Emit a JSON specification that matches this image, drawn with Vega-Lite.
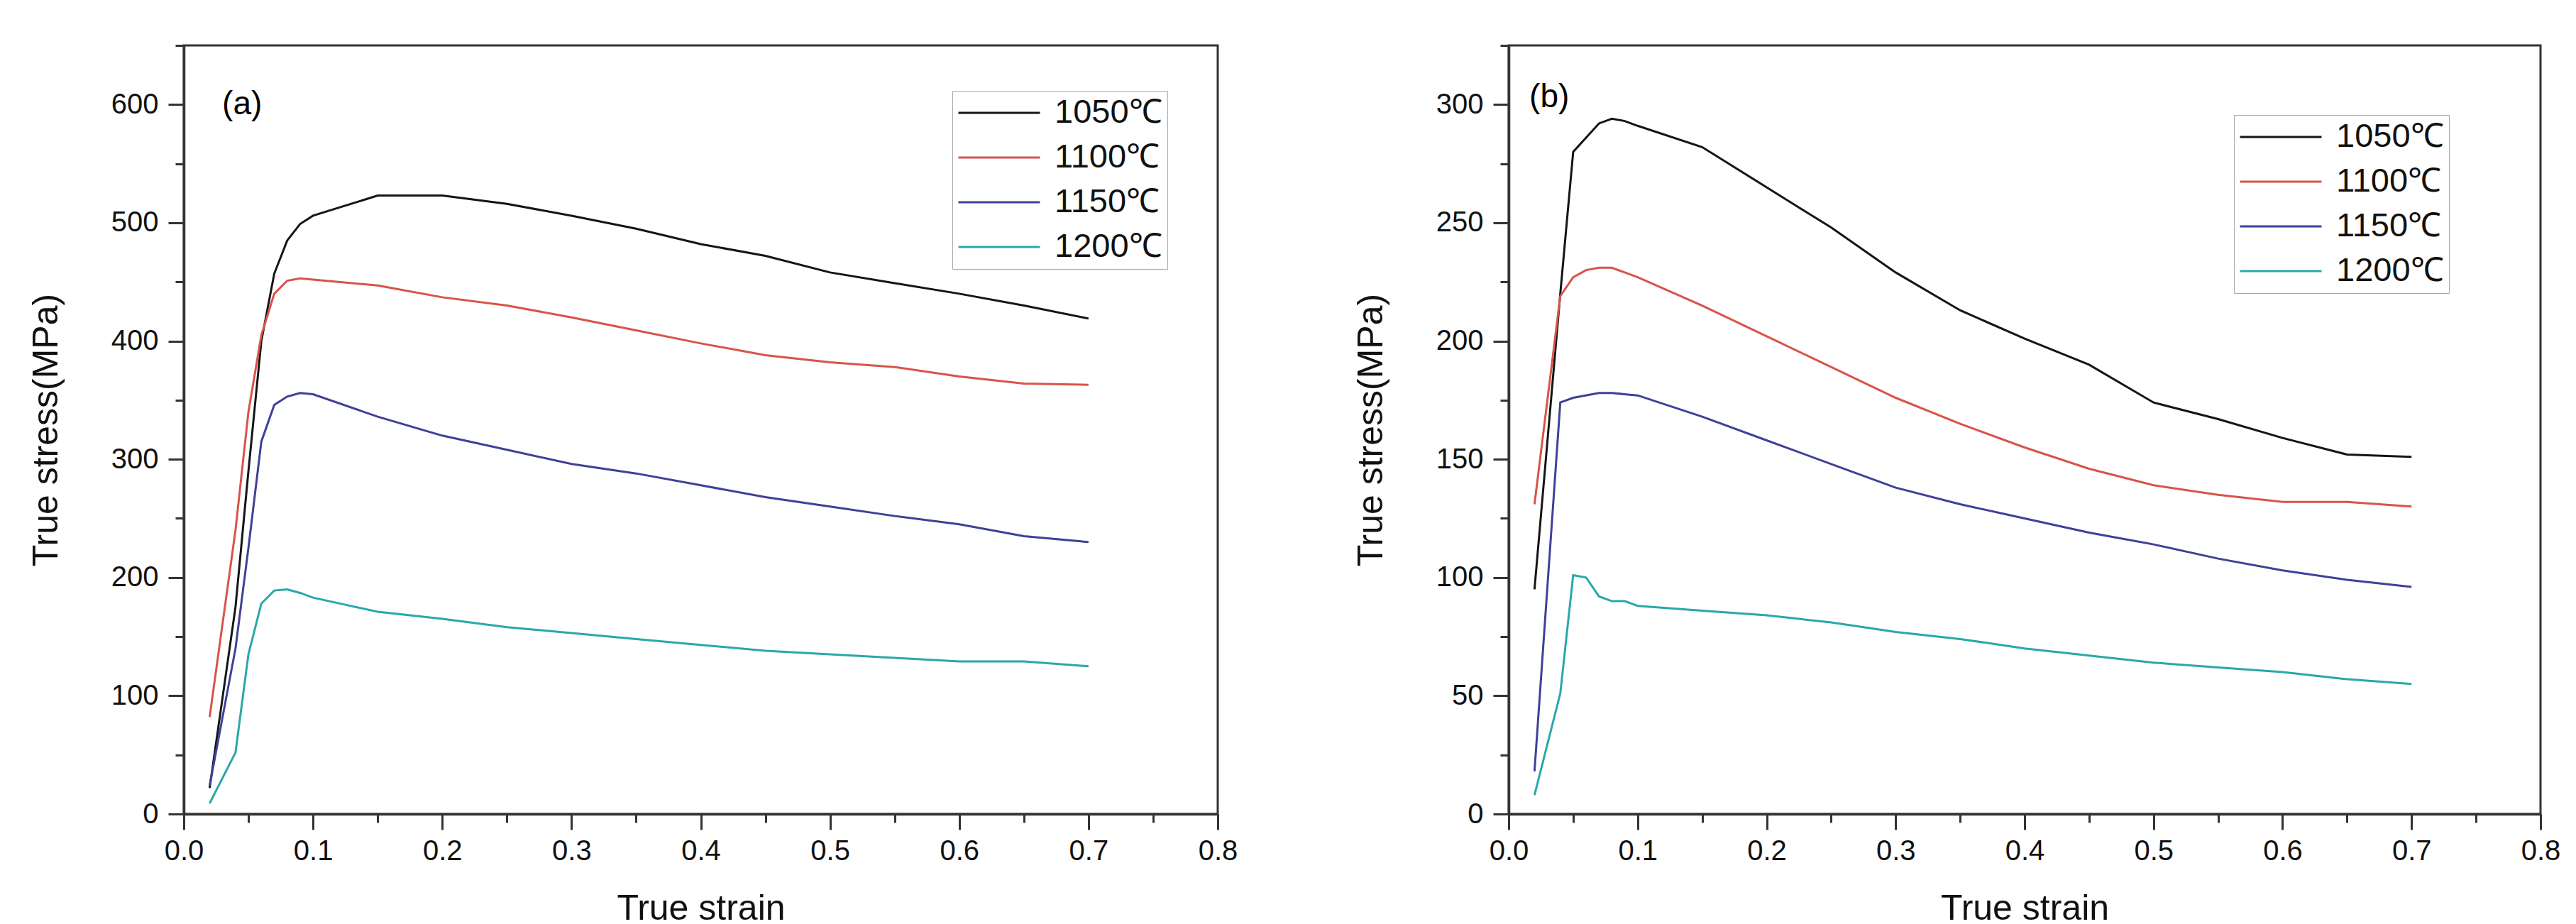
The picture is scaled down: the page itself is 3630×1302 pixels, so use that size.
{
  "$schema": "https://vega.github.io/schema/vega-lite/v6.json",
  "background": "white",
  "padding": {"left": 38, "top": 42, "right": 5, "bottom": 5},
  "datasets": {
    "a": [
      {"T": "1050℃", "strain": 0.02, "stress": 22}, {"T": "1050℃", "strain": 0.04, "stress": 175}, {"T": "1050℃", "strain": 0.05, "stress": 290}, {"T": "1050℃", "strain": 0.06, "stress": 400}, {"T": "1050℃", "strain": 0.07, "stress": 457}, {"T": "1050℃", "strain": 0.08, "stress": 485}, {"T": "1050℃", "strain": 0.09, "stress": 499}, {"T": "1050℃", "strain": 0.1, "stress": 506}, {"T": "1050℃", "strain": 0.15, "stress": 523}, {"T": "1050℃", "strain": 0.2, "stress": 523}, {"T": "1050℃", "strain": 0.25, "stress": 516}, {"T": "1050℃", "strain": 0.3, "stress": 506}, {"T": "1050℃", "strain": 0.35, "stress": 495}, {"T": "1050℃", "strain": 0.4, "stress": 482}, {"T": "1050℃", "strain": 0.45, "stress": 472}, {"T": "1050℃", "strain": 0.5, "stress": 458}, {"T": "1050℃", "strain": 0.55, "stress": 449}, {"T": "1050℃", "strain": 0.6, "stress": 440}, {"T": "1050℃", "strain": 0.65, "stress": 430}, {"T": "1050℃", "strain": 0.7, "stress": 419},
      {"T": "1100℃", "strain": 0.02, "stress": 82}, {"T": "1100℃", "strain": 0.04, "stress": 240}, {"T": "1100℃", "strain": 0.05, "stress": 340}, {"T": "1100℃", "strain": 0.06, "stress": 405}, {"T": "1100℃", "strain": 0.07, "stress": 440}, {"T": "1100℃", "strain": 0.08, "stress": 451}, {"T": "1100℃", "strain": 0.09, "stress": 453}, {"T": "1100℃", "strain": 0.1, "stress": 452}, {"T": "1100℃", "strain": 0.15, "stress": 447}, {"T": "1100℃", "strain": 0.2, "stress": 437}, {"T": "1100℃", "strain": 0.25, "stress": 430}, {"T": "1100℃", "strain": 0.3, "stress": 420}, {"T": "1100℃", "strain": 0.35, "stress": 409}, {"T": "1100℃", "strain": 0.4, "stress": 398}, {"T": "1100℃", "strain": 0.45, "stress": 388}, {"T": "1100℃", "strain": 0.5, "stress": 382}, {"T": "1100℃", "strain": 0.55, "stress": 378}, {"T": "1100℃", "strain": 0.6, "stress": 370}, {"T": "1100℃", "strain": 0.65, "stress": 364}, {"T": "1100℃", "strain": 0.7, "stress": 363},
      {"T": "1150℃", "strain": 0.02, "stress": 24}, {"T": "1150℃", "strain": 0.04, "stress": 140}, {"T": "1150℃", "strain": 0.05, "stress": 225}, {"T": "1150℃", "strain": 0.06, "stress": 315}, {"T": "1150℃", "strain": 0.07, "stress": 346}, {"T": "1150℃", "strain": 0.08, "stress": 353}, {"T": "1150℃", "strain": 0.09, "stress": 356}, {"T": "1150℃", "strain": 0.1, "stress": 355}, {"T": "1150℃", "strain": 0.15, "stress": 336}, {"T": "1150℃", "strain": 0.2, "stress": 320}, {"T": "1150℃", "strain": 0.25, "stress": 308}, {"T": "1150℃", "strain": 0.3, "stress": 296}, {"T": "1150℃", "strain": 0.35, "stress": 288}, {"T": "1150℃", "strain": 0.4, "stress": 278}, {"T": "1150℃", "strain": 0.45, "stress": 268}, {"T": "1150℃", "strain": 0.5, "stress": 260}, {"T": "1150℃", "strain": 0.55, "stress": 252}, {"T": "1150℃", "strain": 0.6, "stress": 245}, {"T": "1150℃", "strain": 0.65, "stress": 235}, {"T": "1150℃", "strain": 0.7, "stress": 230},
      {"T": "1200℃", "strain": 0.02, "stress": 9}, {"T": "1200℃", "strain": 0.04, "stress": 52}, {"T": "1200℃", "strain": 0.05, "stress": 135}, {"T": "1200℃", "strain": 0.06, "stress": 178}, {"T": "1200℃", "strain": 0.07, "stress": 189}, {"T": "1200℃", "strain": 0.08, "stress": 190}, {"T": "1200℃", "strain": 0.09, "stress": 187}, {"T": "1200℃", "strain": 0.1, "stress": 183}, {"T": "1200℃", "strain": 0.15, "stress": 171}, {"T": "1200℃", "strain": 0.2, "stress": 165}, {"T": "1200℃", "strain": 0.25, "stress": 158}, {"T": "1200℃", "strain": 0.3, "stress": 153}, {"T": "1200℃", "strain": 0.35, "stress": 148}, {"T": "1200℃", "strain": 0.4, "stress": 143}, {"T": "1200℃", "strain": 0.45, "stress": 138}, {"T": "1200℃", "strain": 0.5, "stress": 135}, {"T": "1200℃", "strain": 0.55, "stress": 132}, {"T": "1200℃", "strain": 0.6, "stress": 129}, {"T": "1200℃", "strain": 0.65, "stress": 129}, {"T": "1200℃", "strain": 0.7, "stress": 125}
    ],
    "b": [
      {"T": "1050℃", "strain": 0.02, "stress": 95}, {"T": "1050℃", "strain": 0.04, "stress": 220}, {"T": "1050℃", "strain": 0.05, "stress": 280}, {"T": "1050℃", "strain": 0.06, "stress": 286}, {"T": "1050℃", "strain": 0.07, "stress": 292}, {"T": "1050℃", "strain": 0.08, "stress": 294}, {"T": "1050℃", "strain": 0.09, "stress": 293}, {"T": "1050℃", "strain": 0.1, "stress": 291}, {"T": "1050℃", "strain": 0.15, "stress": 282}, {"T": "1050℃", "strain": 0.2, "stress": 265}, {"T": "1050℃", "strain": 0.25, "stress": 248}, {"T": "1050℃", "strain": 0.3, "stress": 229}, {"T": "1050℃", "strain": 0.35, "stress": 213}, {"T": "1050℃", "strain": 0.4, "stress": 201}, {"T": "1050℃", "strain": 0.45, "stress": 190}, {"T": "1050℃", "strain": 0.5, "stress": 174}, {"T": "1050℃", "strain": 0.55, "stress": 167}, {"T": "1050℃", "strain": 0.6, "stress": 159}, {"T": "1050℃", "strain": 0.65, "stress": 152}, {"T": "1050℃", "strain": 0.7, "stress": 151},
      {"T": "1100℃", "strain": 0.02, "stress": 131}, {"T": "1100℃", "strain": 0.04, "stress": 219}, {"T": "1100℃", "strain": 0.05, "stress": 227}, {"T": "1100℃", "strain": 0.06, "stress": 230}, {"T": "1100℃", "strain": 0.07, "stress": 231}, {"T": "1100℃", "strain": 0.08, "stress": 231}, {"T": "1100℃", "strain": 0.09, "stress": 229}, {"T": "1100℃", "strain": 0.1, "stress": 227}, {"T": "1100℃", "strain": 0.15, "stress": 215}, {"T": "1100℃", "strain": 0.2, "stress": 202}, {"T": "1100℃", "strain": 0.25, "stress": 189}, {"T": "1100℃", "strain": 0.3, "stress": 176}, {"T": "1100℃", "strain": 0.35, "stress": 165}, {"T": "1100℃", "strain": 0.4, "stress": 155}, {"T": "1100℃", "strain": 0.45, "stress": 146}, {"T": "1100℃", "strain": 0.5, "stress": 139}, {"T": "1100℃", "strain": 0.55, "stress": 135}, {"T": "1100℃", "strain": 0.6, "stress": 132}, {"T": "1100℃", "strain": 0.65, "stress": 132}, {"T": "1100℃", "strain": 0.7, "stress": 130},
      {"T": "1150℃", "strain": 0.02, "stress": 18}, {"T": "1150℃", "strain": 0.04, "stress": 174}, {"T": "1150℃", "strain": 0.05, "stress": 176}, {"T": "1150℃", "strain": 0.07, "stress": 178}, {"T": "1150℃", "strain": 0.08, "stress": 178}, {"T": "1150℃", "strain": 0.1, "stress": 177}, {"T": "1150℃", "strain": 0.15, "stress": 168}, {"T": "1150℃", "strain": 0.2, "stress": 158}, {"T": "1150℃", "strain": 0.25, "stress": 148}, {"T": "1150℃", "strain": 0.3, "stress": 138}, {"T": "1150℃", "strain": 0.35, "stress": 131}, {"T": "1150℃", "strain": 0.4, "stress": 125}, {"T": "1150℃", "strain": 0.45, "stress": 119}, {"T": "1150℃", "strain": 0.5, "stress": 114}, {"T": "1150℃", "strain": 0.55, "stress": 108}, {"T": "1150℃", "strain": 0.6, "stress": 103}, {"T": "1150℃", "strain": 0.65, "stress": 99}, {"T": "1150℃", "strain": 0.7, "stress": 96},
      {"T": "1200℃", "strain": 0.02, "stress": 8}, {"T": "1200℃", "strain": 0.04, "stress": 51}, {"T": "1200℃", "strain": 0.05, "stress": 101}, {"T": "1200℃", "strain": 0.06, "stress": 100}, {"T": "1200℃", "strain": 0.07, "stress": 92}, {"T": "1200℃", "strain": 0.08, "stress": 90}, {"T": "1200℃", "strain": 0.09, "stress": 90}, {"T": "1200℃", "strain": 0.1, "stress": 88}, {"T": "1200℃", "strain": 0.15, "stress": 86}, {"T": "1200℃", "strain": 0.2, "stress": 84}, {"T": "1200℃", "strain": 0.25, "stress": 81}, {"T": "1200℃", "strain": 0.3, "stress": 77}, {"T": "1200℃", "strain": 0.35, "stress": 74}, {"T": "1200℃", "strain": 0.4, "stress": 70}, {"T": "1200℃", "strain": 0.45, "stress": 67}, {"T": "1200℃", "strain": 0.5, "stress": 64}, {"T": "1200℃", "strain": 0.55, "stress": 62}, {"T": "1200℃", "strain": 0.6, "stress": 60}, {"T": "1200℃", "strain": 0.65, "stress": 57}, {"T": "1200℃", "strain": 0.7, "stress": 55}
    ]
  },
  "spacing": 410,
  "bounds": "flush",
  "resolve": {"scale": {"y": "independent", "color": "independent"}, "legend": {"color": "independent"}, "axis": {"y": "independent"}},
  "hconcat": [
    {
      "width": 1457,
      "height": 1083,
      "layer": [
        {
          "data": {"name": "a"},
          "mark": {"type": "line", "strokeWidth": 3},
          "encoding": {
            "x": {"field": "strain", "type": "quantitative", "scale": {"domain": [0, 0.8], "nice": false, "zero": false},
              "axis": {"title": "True strain", "values": [0, 0.05, 0.1, 0.15, 0.2, 0.25, 0.3, 0.35, 0.4, 0.45, 0.5, 0.55, 0.6, 0.65, 0.7, 0.75, 0.8],
                "labelExpr": "abs(datum.value*10 - round(datum.value*10)) < 0.001 ? format(datum.value, '.1f') : ''",
                "tickSize": {"condition": {"test": "abs(datum.value*10 - round(datum.value*10)) < 0.001", "value": 22}, "value": 12},
                "labelPadding": 10, "titlePadding": 36}},
            "y": {"field": "stress", "type": "quantitative", "scale": {"domain": [0, 650], "nice": false},
              "axis": {"title": "True stress(MPa)", "values": [0, 50, 100, 150, 200, 250, 300, 350, 400, 450, 500, 550, 600, 650],
                "labelExpr": "datum.value % 100 === 0 ? format(datum.value, 'd') : ''",
                "tickSize": {"condition": {"test": "datum.value % 100 === 0", "value": 22}, "value": 12},
                "labelPadding": 14, "titlePadding": 66}},
            "color": {"field": "T", "type": "nominal",
              "scale": {"domain": ["1050℃", "1100℃", "1150℃", "1200℃"], "range": ["#151515", "#d9534a", "#40409a", "#2aa8a8"]},
              "legend": {"orient": "none", "legendX": 1083, "legendY": 64}}
          }
        },
        {
          "data": {"values": [{"strain": 0.0297, "stress": 600, "label": "(a)"}]},
          "mark": {"type": "text", "align": "left", "baseline": "middle", "fontSize": 46, "font": "Liberation Sans", "color": "black"},
          "encoding": {
            "x": {"field": "strain", "type": "quantitative"},
            "y": {"field": "stress", "type": "quantitative"},
            "text": {"field": "label"}
          }
        }
      ]
    },
    {
      "width": 1454,
      "height": 1083,
      "layer": [
        {
          "data": {"name": "b"},
          "mark": {"type": "line", "strokeWidth": 3},
          "encoding": {
            "x": {"field": "strain", "type": "quantitative", "scale": {"domain": [0, 0.8], "nice": false, "zero": false},
              "axis": {"title": "True strain", "values": [0, 0.05, 0.1, 0.15, 0.2, 0.25, 0.3, 0.35, 0.4, 0.45, 0.5, 0.55, 0.6, 0.65, 0.7, 0.75, 0.8],
                "labelExpr": "abs(datum.value*10 - round(datum.value*10)) < 0.001 ? format(datum.value, '.1f') : ''",
                "tickSize": {"condition": {"test": "abs(datum.value*10 - round(datum.value*10)) < 0.001", "value": 22}, "value": 12},
                "labelPadding": 10, "titlePadding": 36}},
            "y": {"field": "stress", "type": "quantitative", "scale": {"domain": [0, 325], "nice": false},
              "axis": {"title": "True stress(MPa)", "values": [0, 25, 50, 75, 100, 125, 150, 175, 200, 225, 250, 275, 300, 325],
                "labelExpr": "datum.value % 50 === 0 ? format(datum.value, 'd') : ''",
                "tickSize": {"condition": {"test": "datum.value % 50 === 0", "value": 22}, "value": 12},
                "labelPadding": 14, "titlePadding": 66}},
            "color": {"field": "T", "type": "nominal",
              "scale": {"domain": ["1050℃", "1100℃", "1150℃", "1200℃"], "range": ["#151515", "#d9534a", "#40409a", "#2aa8a8"]},
              "legend": {"orient": "none", "legendX": 1022, "legendY": 98}}
          }
        },
        {
          "data": {"values": [{"strain": 0.016, "stress": 303, "label": "(b)"}]},
          "mark": {"type": "text", "align": "left", "baseline": "middle", "fontSize": 46, "font": "Liberation Sans", "color": "black"},
          "encoding": {
            "x": {"field": "strain", "type": "quantitative"},
            "y": {"field": "stress", "type": "quantitative"},
            "text": {"field": "label"}
          }
        }
      ]
    }
  ],
  "config": {
    "font": "Liberation Sans",
    "view": {"stroke": "#333333", "strokeWidth": 3},
    "axis": {
      "grid": false,
      "domainColor": "#333333", "domainWidth": 3.5,
      "tickColor": "#333333", "tickWidth": 3,
      "labelFont": "Liberation Sans", "labelFontSize": 40, "labelColor": "#111111",
      "titleFont": "Liberation Sans", "titleFontSize": 50, "titleFontWeight": "normal", "titleColor": "#111111",
      "labelFlush": false, "labelOverlap": false
    },
    "legend": {
      "title": null,
      "symbolType": "stroke", "symbolSize": 13225, "symbolStrokeWidth": 3,
      "clipHeight": 48,
      "labelFont": "Liberation Sans", "labelFontSize": 47, "labelColor": "#111111",
      "rowPadding": 15, "padding": 7, "strokeColor": "#aaaaaa", "fillColor": "white",
      "labelOffset": 19, "labelLimit": 400
    }
  }
}
